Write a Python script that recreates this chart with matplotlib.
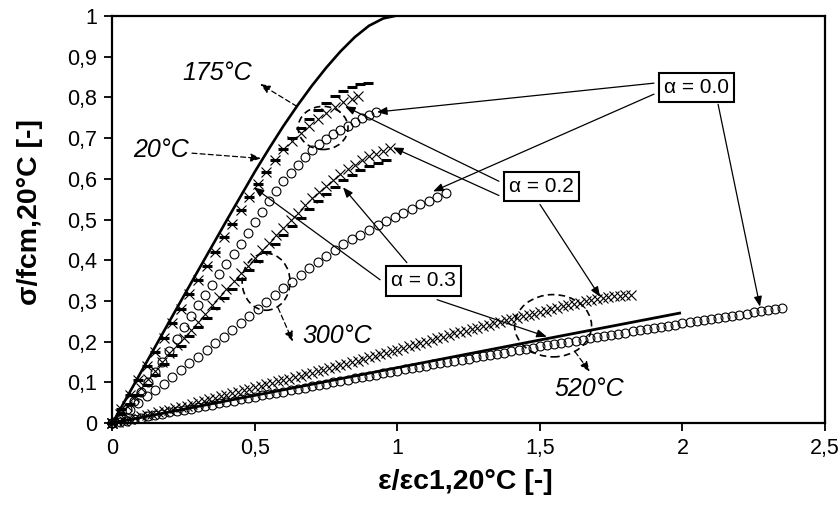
import matplotlib
matplotlib.use('Agg')
import matplotlib.pyplot as plt
from matplotlib.patches import Ellipse

plt.rcParams['font.family'] = ['Liberation Sans', 'DejaVu Sans']

# 20°C reference curve
x_20 = [0, 0.1, 0.2, 0.3, 0.4, 0.5, 0.55, 0.6, 0.65, 0.7, 0.75, 0.8, 0.85, 0.9, 0.95, 0.99]
y_20 = [0, 0.125, 0.25, 0.374, 0.497, 0.618, 0.675, 0.73, 0.781, 0.829, 0.873, 0.913, 0.948, 0.976, 0.994, 1.0]

# 175°C
x_175_a03 = [0, .03, .06, .09, .12, .15, .18, .21, .24, .27, .30, .33, .36, .39, .42, .45, .48, .51,
             .54, .57, .60, .63, .66, .69, .72, .75, .78, .81, .84, .87, .895]
y_175_a03 = [0, .035, .07, .105, .14, .175, .21, .245, .281, .316, .351, .386, .421, .456, .490, .523,
             .556, .587, .617, .646, .674, .700, .724, .747, .768, .787, .803, .816, .826, .832, .836]
x_175_a02 = [0, .03, .06, .09, .12, .15, .18, .21, .24, .27, .30, .33, .36, .39, .42, .45, .48, .51,
             .54, .57, .60, .63, .66, .69, .72, .75, .78, .81, .84, .86]
y_175_a02 = [0, .035, .07, .105, .14, .175, .21, .245, .281, .316, .351, .386, .421, .456, .490, .523,
             .556, .587, .617, .646, .674, .694, .712, .730, .747, .762, .776, .788, .797, .803]
x_175_a00 = [0, .025, .05, .075, .1, .125, .15, .175, .2, .225, .25, .275, .3, .325, .35, .375, .4, .425,
             .45, .475, .5, .525, .55, .575, .6, .625, .65, .675, .7, .725, .75, .775, .8, .825, .85,
             .875, .9, .925]
y_175_a00 = [0, .017, .035, .055, .077, .1, .125, .151, .178, .206, .235, .263, .29, .315, .34, .365,
             .39, .415, .44, .466, .493, .519, .545, .57, .594, .615, .635, .653, .67, .685, .698, .71,
             .72, .73, .74, .749, .757, .765]

# 300°C
x_300_a02 = [0, .025, .05, .075, .1, .125, .15, .175, .2, .225, .25, .275, .3, .325, .35, .375, .4, .425,
             .45, .475, .5, .525, .55, .575, .6, .625, .65, .675, .7, .725, .75, .775, .8, .825, .85,
             .875, .9, .925, .95, .975]
y_300_a02 = [0, .021, .042, .064, .085, .107, .129, .15, .172, .191, .21, .229, .248, .268, .289, .309,
             .33, .349, .368, .386, .405, .424, .443, .461, .48, .498, .517, .535, .553, .568, .583,
             .598, .612, .623, .634, .645, .655, .662, .669, .676]
x_300_a03 = [0, .03, .06, .09, .12, .15, .18, .21, .24, .27, .30, .33, .36, .39, .42, .45, .48, .51,
             .54, .57, .60, .63, .66, .69, .72, .75, .78, .81, .84, .87, .90, .93, .96]
y_300_a03 = [0, .023, .047, .07, .094, .119, .144, .168, .19, .213, .235, .259, .283, .307, .33, .353,
             .375, .397, .419, .44, .462, .483, .504, .525, .545, .563, .581, .597, .609, .621, .632,
             .639, .645]
x_300_a00 = [0, .03, .06, .09, .12, .15, .18, .21, .24, .27, .30, .33, .36, .39, .42, .45, .48, .51,
             .54, .57, .60, .63, .66, .69, .72, .75, .78, .81, .84, .87, .90, .93, .96, .99, 1.02,
             1.05, 1.08, 1.11, 1.14, 1.17]
y_300_a00 = [0, .016, .033, .05, .066, .082, .097, .113, .13, .147, .163, .179, .196, .212, .229, .246,
             .264, .281, .298, .315, .331, .347, .363, .38, .395, .41, .425, .439, .451, .463, .475,
             .486, .496, .507, .517, .527, .537, .546, .555, .564]

# 520°C
x_520_a02 = [0, .02, .04, .06, .08, .1, .12, .14, .16, .18, .2, .22, .24, .26, .28, .3, .32, .34, .36,
             .38, .4, .42, .44, .46, .48, .5, .52, .54, .56, .58, .6, .62, .64, .66, .68, .7, .72,
             .74, .76, .78, .8, .82, .84, .86, .88, .9, .92, .94, .96, .98, 1.0, 1.02, 1.04, 1.06,
             1.08, 1.1, 1.12, 1.14, 1.16, 1.18, 1.2, 1.22, 1.24, 1.26, 1.28, 1.3, 1.32, 1.34, 1.36,
             1.38, 1.4, 1.42, 1.44, 1.46, 1.48, 1.5, 1.52, 1.54, 1.56, 1.58, 1.6, 1.62, 1.64, 1.66,
             1.68, 1.7, 1.72, 1.74, 1.76, 1.78, 1.8, 1.82]
y_520_a02 = [0, .003, .006, .01, .013, .016, .019, .022, .026, .029, .032, .036, .04, .043, .047, .051,
             .055, .059, .062, .066, .07, .074, .077, .081, .084, .088, .091, .095, .098, .102, .105,
             .109, .112, .116, .12, .124, .127, .131, .135, .138, .142, .146, .15, .153, .157, .161,
             .165, .169, .172, .176, .18, .184, .188, .192, .196, .2, .204, .208, .212, .216, .22,
             .224, .227, .231, .234, .238, .241, .245, .248, .252, .255, .259, .262, .266, .269, .273,
             .276, .28, .283, .287, .29, .293, .296, .299, .302, .305, .307, .309, .311, .313, .314,
             .315]
x_520_a03 = [0, 0.5, 1.0, 1.5, 1.99]
y_520_a03 = [0, 0.068, 0.136, 0.204, 0.27]
x_520_a00 = [0, .025, .05, .075, .1, .125, .15, .175, .2, .225, .25, .275, .3, .325, .35, .375, .4, .425,
             .45, .475, .5, .525, .55, .575, .6, .625, .65, .675, .7, .725, .75, .775, .8, .825, .85,
             .875, .9, .925, .95, .975, 1.0, 1.025, 1.05, 1.075, 1.1, 1.125, 1.15, 1.175, 1.2, 1.225,
             1.25, 1.275, 1.3, 1.325, 1.35, 1.375, 1.4, 1.425, 1.45, 1.475, 1.5, 1.525, 1.55, 1.575,
             1.6, 1.625, 1.65, 1.675, 1.7, 1.725, 1.75, 1.775, 1.8, 1.825, 1.85, 1.875, 1.9, 1.925,
             1.95, 1.975, 2.0, 2.025, 2.05, 2.075, 2.1, 2.125, 2.15, 2.175, 2.2, 2.225, 2.25, 2.275,
             2.3, 2.325, 2.35]
y_520_a00 = [0, .003, .006, .01, .013, .016, .019, .023, .026, .029, .032, .035, .039, .042, .045, .048,
             .052, .055, .058, .061, .065, .068, .071, .074, .077, .081, .084, .087, .09, .094, .097,
             .1, .103, .106, .11, .113, .116, .119, .123, .126, .129, .132, .135, .138, .141, .144,
             .147, .149, .153, .155, .158, .161, .164, .167, .17, .173, .176, .179, .182, .185, .188,
             .191, .194, .196, .199, .202, .205, .208, .211, .214, .217, .219, .222, .225, .228, .231,
             .234, .236, .239, .242, .245, .248, .25, .253, .256, .258, .261, .264, .266, .269, .272,
             .274, .277, .28, .282]

x_ticks = [0, 0.5, 1, 1.5, 2, 2.5]
x_ticklabels = ['0', '0,5', '1', '1,5', '2', '2,5']
y_ticks = [0, 0.1, 0.2, 0.3, 0.4, 0.5, 0.6, 0.7, 0.8, 0.9, 1.0]
y_ticklabels = ['0', '0,1', '0,2', '0,3', '0,4', '0,5', '0,6', '0,7', '0,8', '0,9', '1']

fig = plt.figure(figsize=(8.4, 5.08), dpi=100)
ax = fig.add_axes([0.1339, 0.1673, 0.8482, 0.8012])

k = 'black'
circ = dict(ls='none', marker='o', ms=6.4, mfc='none', mec=k, mew=0.8, clip_on=False)
cross = dict(ls='none', marker='x', ms=7, mec=k, mew=0.8, clip_on=False)
dash = dict(ls='none', marker='_', ms=7.5, mec=k, mew=2.2, clip_on=False)

ax.plot(x_20, y_20, color=k, lw=1.9)

ax.plot(x_175_a00, y_175_a00, **circ)
ax.plot(x_175_a02, y_175_a02, **cross)
ax.plot(x_175_a03, y_175_a03, **dash)

ax.plot(x_300_a00, y_300_a00, **circ)
ax.plot(x_300_a02, y_300_a02, **cross)
ax.plot(x_300_a03, y_300_a03, **dash)

ax.plot(x_520_a00, y_520_a00, **circ)
ax.plot(x_520_a02, y_520_a02, **cross)
ax.plot(x_520_a03, y_520_a03, color=k, lw=2.0)

ax.set_xlim(0, 2.5)
ax.set_ylim(0, 1)
ax.set_xticks(x_ticks)
ax.set_xticklabels(x_ticklabels)
ax.set_yticks(y_ticks)
ax.set_yticklabels(y_ticklabels)
ax.tick_params(direction='out', length=6, width=1.3, labelsize=15.5, pad=5)
for s in ax.spines.values():
    s.set_linewidth(1.6)

ax.set_xlabel('ε/εc1,20°C [-]', fontsize=20.5, fontweight='bold', va='center')
ax.set_ylabel('σ/fcm,20°C [-]', fontsize=20.5, fontweight='bold', va='center')
ax.xaxis.set_label_coords(0.495, -0.145)
ax.yaxis.set_label_coords(-0.116, 0.518)

# solid arrows from the alpha boxes
solid = dict(arrowstyle='-|>,head_length=0.5,head_width=0.2', color=k, lw=0.9, shrinkA=0, shrinkB=0)
arrows = [
    ((1.90, 0.835), (0.928, 0.764)),
    ((1.90, 0.808), (1.125, 0.569)),
    ((2.125, 0.783), (2.272, 0.286)),
    ((1.356, 0.594), (0.816, 0.778)),
    ((1.356, 0.559), (0.984, 0.677)),
    ((1.50, 0.537), (1.711, 0.31)),
    ((0.939, 0.352), (0.496, 0.579)),
    ((1.033, 0.394), (0.809, 0.579)),
    ((1.139, 0.303), (1.524, 0.212)),
]
for start, end in arrows:
    ax.annotate('', xy=end, xytext=start, arrowprops=dict(solid, mutation_scale=12))

box = dict(boxstyle='square,pad=0.25', fc='white', ec=k, lw=1.5)
ax.text(2.049, 0.825, 'α = 0.0', fontsize=15, ha='center', va='center', bbox=box, zorder=5)
ax.text(1.504, 0.581, 'α = 0.2', fontsize=15, ha='center', va='center', bbox=box, zorder=5)
ax.text(1.091, 0.349, 'α = 0.3', fontsize=15, ha='center', va='center', bbox=box, zorder=5)

# temperature labels with dashed arrows
dashed = dict(arrowstyle='-|>,head_length=0.5,head_width=0.2', color=k, lw=0.9,
              linestyle=(0, (4, 2.5)), shrinkA=0, shrinkB=0)
temps = [
    ('175°C', (0.367, 0.86), (0.647, 0.778), (0.518, 0.833)),
    ('20°C', (0.17, 0.67), (0.279, 0.663), (0.521, 0.65)),
    ('300°C', (0.787, 0.214), (0.581, 0.283), (0.633, 0.2)),
    ('520°C', (1.672, 0.084), (1.623, 0.175), (1.675, 0.126)),
]
for label, pos, start, end in temps:
    ax.text(pos[0], pos[1], label, fontsize=18, style='italic', ha='center', va='center')
    ax.annotate('', xy=end, xytext=start, arrowprops=dict(dashed, mutation_scale=12))

for c, w, h in [((0.739, 0.725), 0.175, 0.106), ((0.539, 0.347), 0.168, 0.14),
                ((1.546, 0.239), 0.27, 0.153)]:
    ax.add_patch(Ellipse(c, w, h, fill=False, ec=k, lw=1.2, ls=(0, (4, 2.5))))

fig.savefig('out.png', dpi=100)
